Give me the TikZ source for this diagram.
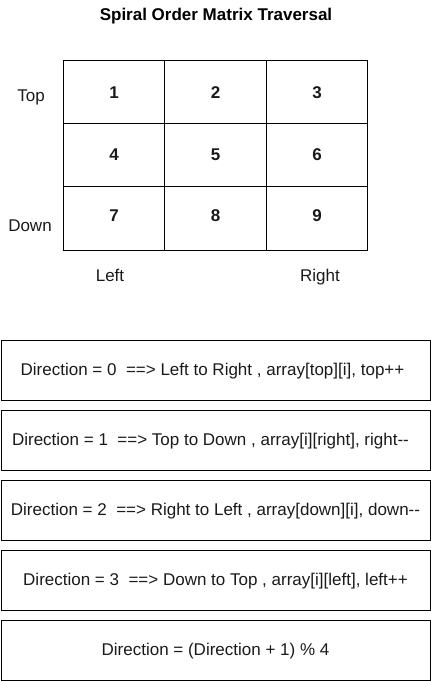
\documentclass[tikz,border=0pt]{standalone}
\usepackage{fontspec}
\setmainfont{Liberation Sans}
\definecolor{txt}{HTML}{1A1A1A}
\begin{document}
\begin{tikzpicture}[x=0.75pt,y=-0.75pt,
  cell/.style={draw=black,line width=0.75pt,minimum width=101.5*0.75pt,minimum height=62.5*0.75pt,inner sep=0pt,font=\fontsize{12.75}{15}\selectfont\bfseries,text=txt},
  dirbox/.style={draw=black,line width=0.75pt,minimum width=429*0.75pt,minimum height=60*0.75pt,inner sep=0pt,font=\fontsize{12.75}{15}\selectfont,text=txt},
  dirtext/.style={font=\fontsize{12.75}{15}\selectfont,text=txt,inner sep=0pt,text height=9.2pt,text depth=2.7pt},
  lbl/.style={font=\fontsize{12.75}{15}\selectfont,text=txt,inner sep=0pt,text height=9.2pt,text depth=2.7pt}]
\useasboundingbox (0,0) rectangle (431,681);
\node[font=\fontsize{12.75}{15}\selectfont\bfseries,text=black] (title) at (216,16.5) {Spiral Order Matrix Traversal};
% grid rows: 61-124, 124-186, 186-250 ; cols 63-165, 165-266, 266-368
\node[cell,minimum height=63*0.75pt] (c1) at (114,92.5) {1};
\node[cell,minimum height=63*0.75pt] (c2) at (215.5,92.5) {2};
\node[cell,minimum height=63*0.75pt] (c3) at (317,92.5) {3};
\node[cell,minimum height=62*0.75pt] (c4) at (114,155) {4};
\node[cell,minimum height=62*0.75pt] (c5) at (215.5,155) {5};
\node[cell,minimum height=62*0.75pt] (c6) at (317,155) {6};
\node[cell,minimum height=64*0.75pt] (c7) at (114,218) {\raisebox{4pt}{7}};
\node[cell,minimum height=64*0.75pt] (c8) at (215.5,218) {\raisebox{4pt}{8}};
\node[cell,minimum height=64*0.75pt] (c9) at (317,218) {\raisebox{4pt}{9}};
\node[lbl] (top) at (31,97.5) {Top};
\node[lbl] (down) at (30,227) {Down};
\node[lbl] (left) at (110,277) {Left};
\node[lbl] (right) at (320,277) {Right};
\node[dirbox] (d0) at (215.5,370) {};
\node[dirbox] (d1) at (215.5,440) {};
\node[dirbox] (d2) at (215.5,510) {};
\node[dirbox] (d3) at (215.5,580) {};
\node[dirbox] (d4) at (215.5,650) {};
\node[dirtext] (t0) at ([xshift=-2.25pt,yshift=-1.2pt]d0.center) {Direction = 0\ \ ==> Left to Right , array[top][i], top++};
\node[dirtext] (t1) at ([xshift=-3.75pt,yshift=-1.2pt]d1.center) {Direction = 1\ \ ==> Top to Down , array[i][right], right-{}-};
\node[dirtext] (t2) at ([yshift=-1.2pt]d2.center) {Direction = 2\ \ ==> Right to Left , array[down][i], down-{}-};
\node[dirtext] (t3) at ([yshift=-1.2pt]d3.center) {Direction = 3\ \ ==> Down to Top , array[i][left], left++};
\node[dirtext] (t4) at ([yshift=-1.2pt]d4.center) {Direction = (Direction + 1) \% 4};
\end{tikzpicture}
\end{document}
